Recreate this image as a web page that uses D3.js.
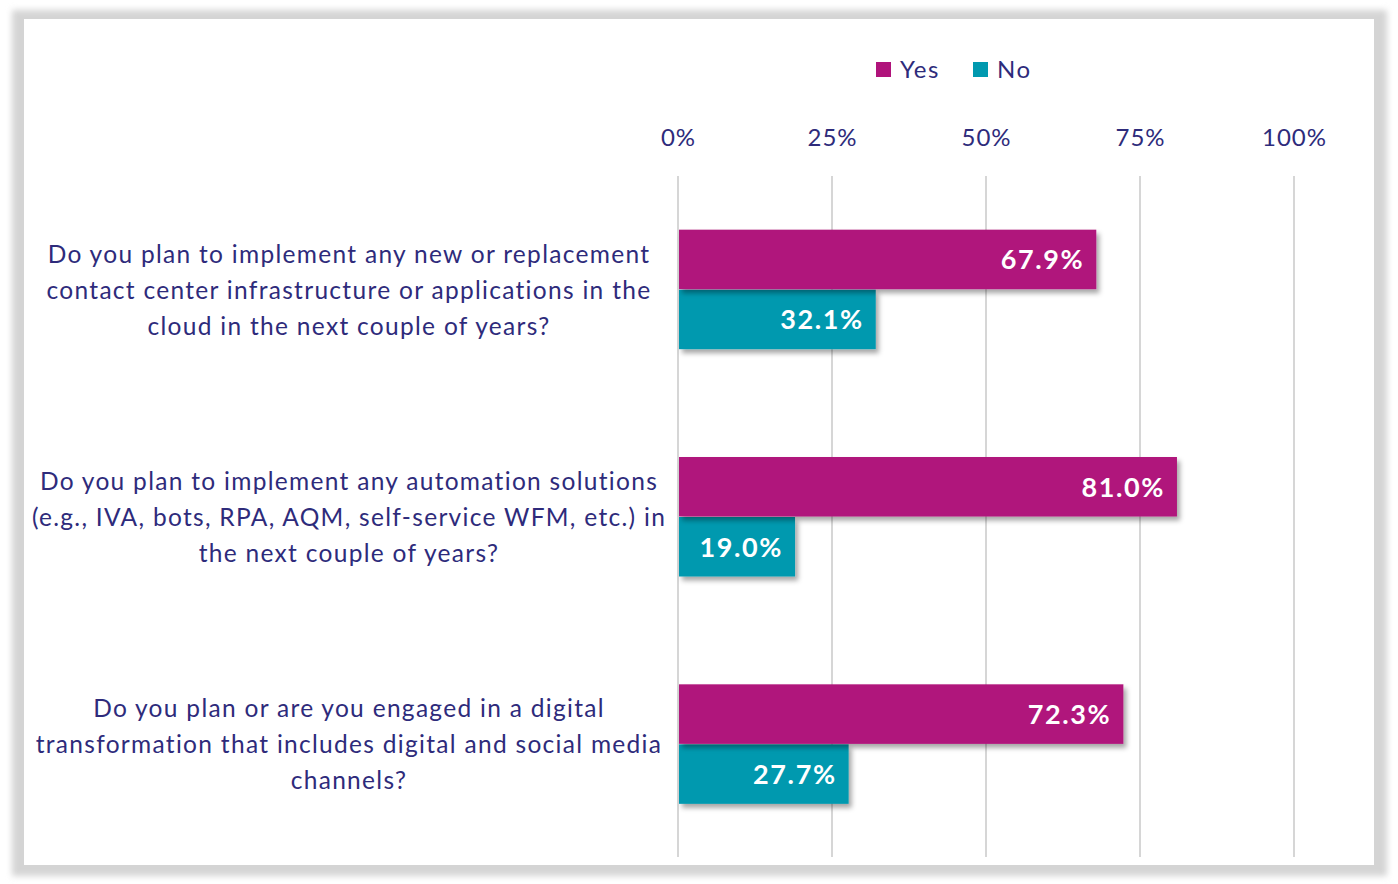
<!DOCTYPE html>
<meta charset="utf-8">
<style>
body { margin: 0; background: #fff; }
svg text { font-family: Lato, "Open Sans", sans-serif; }
</style>
<body>
<svg width="1398" height="884"></svg>
<script src="https://cdn.jsdelivr.net/npm/d3@7/dist/d3.min.js"></script>
<script>
// question text, one array of lines per category
var questions = [
  ["Do you plan to implement any new or replacement", "contact center infrastructure or applications in the", "cloud in the next couple of years?"],
  ["Do you plan to implement any automation solutions", "(e.g., IVA, bots, RPA, AQM, self-service WFM, etc.) in", "the next couple of years?"],
  ["Do you plan or are you engaged in a digital", "transformation that includes digital and social media", "channels?"]
];
var series = ["Yes", "No"];
var yesValues = [67.9, 81.0, 72.3];
var noValues = [32.1, 19.0, 27.7];
var ticks = [0, 25, 50, 75, 100];

var colors = {Yes: "#B0137B", No: "#0099AF"},
    textColor = "#2E2B7B";

var svg = d3.select("svg");
var defs = svg.append("defs");

var frameBlur = defs.append("filter").attr("id", "frameBlur")
    .attr("x", "-5%").attr("y", "-5%").attr("width", "110%").attr("height", "110%");
frameBlur.append("feGaussianBlur").attr("stdDeviation", 3);

var barShadow = defs.append("filter").attr("id", "barShadow")
    .attr("x", "-10%").attr("y", "-20%").attr("width", "130%").attr("height", "150%");
barShadow.append("feDropShadow").attr("dx", 3).attr("dy", 4).attr("stdDeviation", 2.5)
    .attr("flood-color", "#000").attr("flood-opacity", 0.35);

// frame
svg.append("rect").attr("x", 12).attr("y", 10).attr("width", 1375).attr("height", 866)
    .attr("fill", "#d4d4d4").attr("filter", "url(#frameBlur)");
svg.append("rect").attr("x", 24).attr("y", 19).attr("width", 1350).attr("height", 846)
    .attr("fill", "#fff");

var x = d3.scaleLinear().domain([0, 100]).range([678, 1294]);
var y = d3.scaleBand().domain(d3.range(questions.length)).range([176, 858]);
var ySub = d3.scaleBand().domain(series).range([0, 120]);

// gridlines
svg.append("g").selectAll("line").data(ticks).enter().append("line")
    .attr("x1", function(d) { return x(d); }).attr("x2", function(d) { return x(d); })
    .attr("y1", 176).attr("y2", 857)
    .attr("stroke", "#d6d6d6").attr("stroke-width", 2);

// top axis labels
var axis = svg.append("g").attr("transform", "translate(0,146)")
    .call(d3.axisTop(x).tickValues(ticks).tickFormat(function(d) { return d + "%"; }).tickSize(0).tickPadding(0));
axis.select(".domain").remove();
axis.selectAll("text").attr("fill", textColor).style("font-size", "24px")
    .style("letter-spacing", "1px")
    .style("font-family", "Lato, sans-serif");

// legend
var legend = svg.append("g").selectAll("g").data(series).enter().append("g")
    .attr("transform", function(d, i) { return "translate(" + (876 + i * 97) + ",62)"; });
legend.append("rect").attr("width", 15).attr("height", 15).attr("fill", function(d) { return colors[d]; });
legend.append("text").attr("x", 24).attr("y", 7.5).attr("dy", "0.35em")
    .attr("fill", textColor).style("font-size", "24px").style("letter-spacing", "1.5px")
    .text(function(d) { return d; });

// bars
var rows = questions.map(function(q, i) {
  return {i: i, values: [{key: "Yes", v: yesValues[i]}, {key: "No", v: noValues[i]}]};
});

var groups = svg.append("g").selectAll("g").data(rows).enter().append("g")
    .attr("transform", function(d) { return "translate(0," + (y(d.i) + y.bandwidth() / 2 - 60) + ")"; });

groups.selectAll("rect").data(function(d) { return d.values.slice().reverse(); }).enter().append("rect")
    .attr("x", x(0) + 1)
    .attr("y", function(d) { return ySub(d.key); })
    .attr("width", function(d) { return x(d.v) - x(0) - 1; })
    .attr("height", ySub.bandwidth() - 0.5)
    .attr("fill", function(d) { return colors[d.key]; })
    .attr("filter", "url(#barShadow)");

groups.selectAll("text.value").data(function(d) { return d.values; }).enter().append("text")
    .attr("class", "value")
    .attr("x", function(d) { return x(d.v) - 12; })
    .attr("y", function(d) { return ySub(d.key) + ySub.bandwidth() / 2; })
    .attr("dy", "0.36em")
    .attr("text-anchor", "end")
    .attr("fill", "#fff")
    .style("font-size", "27px").style("font-weight", "bold").style("letter-spacing", "1.6px")
    .text(function(d) { return d.v.toFixed(1) + "%"; });

// category labels
svg.append("g").selectAll("text").data(questions).enter().append("text")
    .attr("x", 349)
    .attr("y", function(d, i) { return y(i) + y.bandwidth() / 2; })
    .attr("text-anchor", "middle")
    .attr("fill", textColor)
    .style("font-size", "24.5px")
    .style("letter-spacing", "1.3px")
    .selectAll("tspan").data(function(d) { return d; }).enter().append("tspan")
    .attr("x", 349)
    .attr("dy", function(d, j) { return j === 0 ? "-1.1em" : "1.47em"; })
    .text(function(d) { return d; });
</script>
</body>
